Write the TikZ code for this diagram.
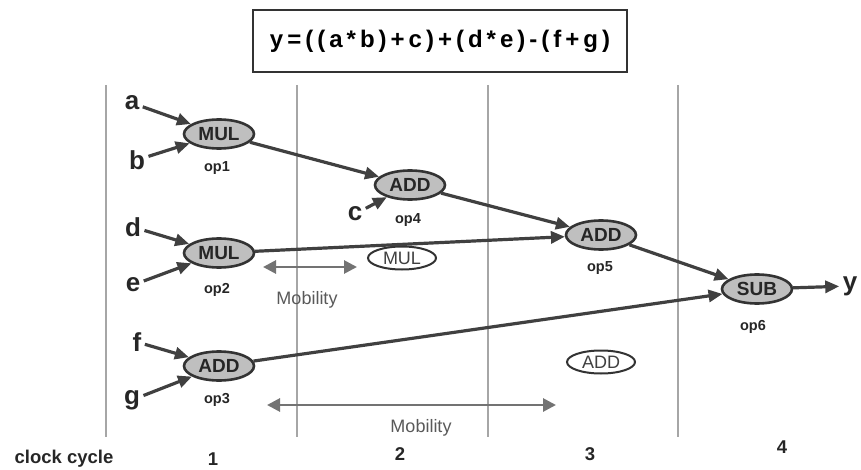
\documentclass[tikz,border=0pt]{standalone}
\usepackage{fontspec}
\setmainfont{Liberation Sans}
\usetikzlibrary{arrows.meta,shapes.geometric}

\tikzset{
  opnode/.style={ellipse, draw=black!80, line width=2.6pt, fill=black!25, minimum width=70pt, minimum height=29pt, inner sep=0pt, font=\fontsize{19}{19}\selectfont\bfseries, text=black!85},
  freenode/.style={opnode, fill=white, line width=2pt, minimum width=68pt, minimum height=23pt, font=\fontsize{18}{18}\selectfont, text=black!75},
  varlabel/.style={font=\fontsize{26}{26}\selectfont\bfseries, text=black!85},
  oplabel/.style={font=\fontsize{14.5}{14.5}\selectfont\bfseries, text=black!85},
  cyclabel/.style={font=\fontsize{18.5}{18.5}\selectfont\bfseries, text=black!85, inner sep=1pt},
  moblabel/.style={font=\fontsize{18}{18}\selectfont, text=black!65},
  flow/.style={draw=black!75, line width=3.2pt, -{Triangle[length=14pt, width=12pt]}},
  mobility/.style={draw=black!55, line width=2.8pt, {Triangle[length=13pt, width=13pt]}-{Triangle[length=13pt, width=13pt]}},
  cycleline/.style={draw=black!35, line width=2.2pt}
}

\begin{document}
\begin{tikzpicture}[x=1pt,y=-1pt]
\useasboundingbox (0,0) rectangle (861,470);
% clock cycle boundaries
\foreach \xx in {106,297,488,678}
  \draw[cycleline] (\xx,85) -- (\xx,437);
% equation
\node[draw=black!80, line width=1.8pt, minimum width=374pt, minimum height=62pt, font=\fontsize{24}{24}\selectfont\bfseries] (eqn) at (440,41)
  {y\,=\,(\,(\,a\,*\,b\,)\,+\,c\,)\,+\,(\,d\,*\,e\,)\,-\,(\,f\,+\,g\,)};
% operations
\node[opnode] (op1) at (219,134) {MUL};
\node[opnode] (op2) at (219,253) {MUL};
\node[opnode] (op3) at (219,366) {ADD};
\node[opnode] (op4) at (410,185) {ADD};
\node[opnode] (op5) at (601,235) {ADD};
\node[opnode] (op6) at (757,289) {SUB};
\node[freenode] (mul2) at (402,258) {MUL};
\node[freenode] (add3) at (601,362) {ADD};
\node[oplabel] (lop1) at (217,168) {op1};
\node[oplabel] (lop2) at (217,290) {op2};
\node[oplabel] (lop3) at (217,400) {op3};
\node[oplabel] (lop4) at (408,220) {op4};
\node[oplabel] (lop5) at (600,268) {op5};
\node[oplabel] (lop6) at (753,327) {op6};
% inputs and output
\node[varlabel] (va) at (132,103) {a};
\node[varlabel] (vb) at (137,160) {b};
\node[varlabel] (vc) at (355,214) {c};
\node[varlabel] (vd) at (133,227) {d};
\node[varlabel] (ve) at (133,285) {e};
\node[varlabel] (vf) at (137,342) {f};
\node[varlabel] (vg) at (132,400) {g};
\node[varlabel] (vy) at (850,286) {y};
% data flow
\draw[flow] (va) -- (op1);
\draw[flow] (vb) -- (op1);
\draw[flow] (vd) -- (op2);
\draw[flow] (ve) -- (op2);
\draw[flow] (vf) -- (op3);
\draw[flow] (vg) -- (op3);
\draw[flow] (vc) -- (op4);
\draw[flow] (op1) -- (op4);
\draw[flow] (op4) -- (op5);
\draw[flow] (op2) -- (op5);
\draw[flow] (op5) -- (op6);
\draw[flow] (op3) -- (op6);
\draw[flow] (op6) -- (vy);
% mobility
\coordinate (m1a) at (263,267);
\coordinate (m1b) at (357,267);
\coordinate (m2a) at (267,405);
\coordinate (m2b) at (556,405);
\draw[mobility] (m1a) -- (m1b);
\draw[mobility] (m2a) -- (m2b);
\node[moblabel] (mob1) at (307,300) {Mobility};
\node[moblabel] (mob2) at (421,428) {Mobility};
% clock cycles
\node[cyclabel] (cc) at (64,459) {clock cycle};
\node[cyclabel] (c1) at (213,459) {1};
\node[cyclabel] (c2) at (400,454) {2};
\node[cyclabel] (c3) at (590,454) {3};
\node[cyclabel] (c4) at (782,447) {4};
\end{tikzpicture}
\end{document}
